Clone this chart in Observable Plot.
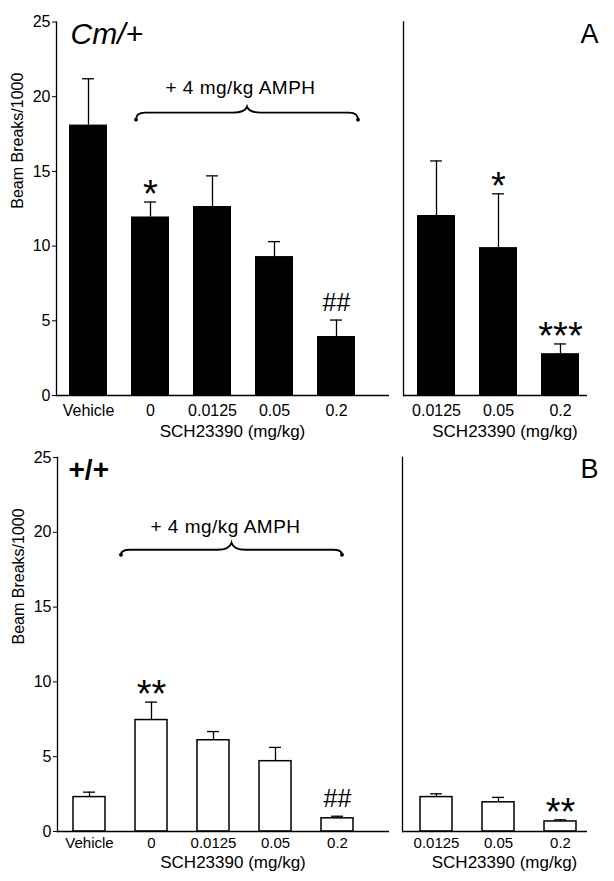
<!DOCTYPE html>
<html><head><meta charset="utf-8">
<script src="https://cdn.jsdelivr.net/npm/d3@7"></script>
<script src="https://cdn.jsdelivr.net/npm/@observablehq/plot@0.6"></script>
<style>
html,body{margin:0;padding:0;background:#fff;}
#fig{position:relative;width:614px;height:881px;overflow:hidden;background:#fff;font-family:"Liberation Sans",Arial,sans-serif;}
#fig > div{position:absolute;}
</style></head>
<body><div id="fig"></div>
<script>
// ---- data ----
const doseLeft = ["Vehicle", "0", "0.0125", "0.05", "0.2"];
const doseRight = ["0.0125", "0.05", "0.2"];
const yTicks = [0, 5, 10, 15, 20, 25];

// Cm/+ (panel A)
const cmLeftMean = [18.1, 11.95, 12.65, 9.3, 3.95];
const cmLeftSem  = [3.1, 1.0, 2.05, 1.0, 1.1];
const cmLeftSig  = ["", "*", "", "", "##"];
const cmRightMean = [12.05, 9.9, 2.8];
const cmRightSem  = [3.65, 3.6, 0.65];
const cmRightSig  = ["", "*", "***"];

// +/+ (panel B)
const wtLeftMean = [2.3, 7.45, 6.1, 4.7, 0.88];
const wtLeftSem  = [0.33, 1.2, 0.58, 0.92, 0.14];
const wtLeftSig  = ["", "**", "", "", "##"];
const wtRightMean = [2.3, 1.95, 0.67];
const wtRightSem  = [0.22, 0.33, 0.11];
const wtRightSig  = ["", "", "**"];

const xTitle = "SCH23390 (mg/kg)";
const yTitle = "Beam Breaks/1000";
const braceText = "+ 4 mg/kg AMPH";

// ---- drawing ----
const FONT = '"Liberation Sans", Arial, Helvetica, sans-serif';

function braceMark(fromCat, toCat, level, o) {
  return (index, scales, values, dimensions, context) => {
    const xs = scales.x, ys = scales.y;
    const bw = typeof xs.bandwidth === "function" ? xs.bandwidth() : 0;
    const x0 = xs(fromCat) + bw / 2 + o.dx0;
    const x1 = xs(toCat) + bw / 2 + o.dx1;
    const xm = (x0 + x1) / 2;
    const yl = ys(level);
    const h = o.hook, p = o.peak, r = 9, rm = 14;
    const d = `M${x0},${yl + h} Q${x0},${yl} ${x0 + r},${yl} L${xm - rm},${yl} Q${xm - 2},${yl} ${xm},${yl - p} Q${xm + 2},${yl} ${xm + rm},${yl} L${x1 - r},${yl} Q${x1},${yl} ${x1},${yl + h}`;
    const g = d3.create("svg:g");
    g.append("path").attr("d", d).attr("fill", "none").attr("stroke", "black").attr("stroke-width", 1.8);
    g.append("circle").attr("cx", x0).attr("cy", yl + h).attr("r", 1.9).attr("fill", "black");
    g.append("circle").attr("cx", x1).attr("cy", yl + h).attr("r", 1.9).attr("fill", "black");
    g.append("text").attr("x", xm + o.tdx).attr("y", yl + o.tdy)
      .attr("text-anchor", "middle").attr("font-size", 19).attr("letter-spacing", "0.5px")
      .attr("font-family", FONT).attr("fill", "black").text(braceText);
    return g.node();
  };
}

function panel(cfg) {
  const rows = cfg.cats.map((c, i) => ({dose: c, mean: cfg.means[i], top: cfg.means[i] + cfg.sems[i], sig: cfg.sigs[i]}));
  const marks = [
    Plot.barY(rows, {x: "dose", y: "mean", fill: cfg.filled ? "black" : "white",
      stroke: "black", strokeWidth: cfg.filled ? 0 : 1.5}),
    Plot.ruleX(rows, {x: "dose", y1: "mean", y2: "top", strokeWidth: 1.3}),
    Plot.tickY(rows, {x: "dose", y: "top", insetLeft: cfg.capInset, insetRight: cfg.capInset, strokeWidth: 1.3}),
    Plot.text(rows.filter(d => d.sig.startsWith("*")), {x: "dose", y: "top", text: "sig", fontSize: 38, lineAnchor: "bottom", dy: 5}),
    Plot.text(rows.filter(d => d.sig.startsWith("#")), {x: "dose", y: "top", text: "sig", fontSize: 25, lineAnchor: "bottom", dy: -9}),
    Plot.ruleY([0], {strokeWidth: 1.3}),
    Plot.frame({anchor: "left", strokeWidth: 1.3}),
    Plot.axisX({tickSize: 0, tickPadding: cfg.tickPad, fontSize: cfg.tickFont, label: null}),
    Plot.text([xTitle], {text: d => d, frameAnchor: "bottom", lineAnchor: "top", dy: cfg.labelDy, dx: 9.5, fontSize: 17})
  ];
  if (cfg.yAxis) {
    marks.push(Plot.axisY({ticks: yTicks, tickSize: 4, tickPadding: 2, fontSize: 16, label: null}));
    marks.push(Plot.text([yTitle], {text: d => d, frameAnchor: "left", rotate: -90, dx: -38.5, fontSize: 16}));
  }
  if (cfg.genotype) {
    marks.push(Plot.text([cfg.genotype], {text: d => d, frameAnchor: "top-left", textAnchor: "start", lineAnchor: "bottom",
      dx: cfg.genoDx, dy: 21.5, fontSize: cfg.genoSize, fontStyle: cfg.genoStyle, fontWeight: cfg.genoWeight}));
  }
  if (cfg.letter) {
    marks.push(Plot.text([cfg.letter], {text: d => d, frameAnchor: "top-right", textAnchor: "end", lineAnchor: "bottom",
      dx: 11, dy: 20.5, fontSize: 27}));
  }
  if (cfg.brace) marks.push(braceMark("0", "0.2", cfg.brace.level, cfg.brace));

  const chart = Plot.plot({
    width: cfg.width, height: cfg.height,
    marginLeft: cfg.ml, marginRight: cfg.mr, marginTop: cfg.mt, marginBottom: cfg.mb,
    style: {fontFamily: FONT, fontSize: "16px", color: "black", background: "transparent", overflow: "visible"},
    x: {type: "band", domain: cfg.cats, range: cfg.xRange, paddingInner: cfg.pad, paddingOuter: cfg.pad / 2},
    y: {domain: [0, 25], axis: cfg.yAxis ? undefined : null},
    marks
  });
  const holder = document.createElement("div");
  holder.style.left = cfg.left + "px";
  holder.style.top = cfg.top + "px";
  holder.appendChild(chart);
  document.getElementById("fig").appendChild(holder);
}

// Panel A (Cm/+)
panel({cats: doseLeft, means: cmLeftMean, sems: cmLeftSem, sigs: cmLeftSig, filled: true,
  left: 0, top: 0, width: 400, height: 440, ml: 56, mr: 11, mt: 21.5, mb: 45,
  xRange: [56, 368.5], pad: 0.39, capInset: 13, tickPad: 9, tickFont: 16, labelDy: 29, yAxis: true,
  genotype: "Cm/+", genoDx: 14, genoSize: 30, genoStyle: "italic", genoWeight: "normal",
  brace: {level: 18.9, dx0: -14, dx1: 22, hook: 7, peak: 6, tdx: -6.5, tdy: -19}});
panel({cats: doseRight, means: cmRightMean, sems: cmRightSem, sigs: cmRightSig, filled: true,
  left: 400, top: 0, width: 214, height: 440, ml: 3, mr: 27, mt: 21.5, mb: 45,
  xRange: [5, 191], pad: 0.39, capInset: 13, tickPad: 9, tickFont: 16, labelDy: 29, yAxis: false, letter: "A"});

// Panel B (+/+)
panel({cats: doseLeft, means: wtLeftMean, sems: wtLeftSem, sigs: wtLeftSig, filled: false,
  left: 0, top: 440, width: 400, height: 441, ml: 57, mr: 11, mt: 17, mb: 50,
  xRange: [57, 369.5], pad: 0.49, capInset: 10, tickPad: 6, tickFont: 15, labelDy: 24, yAxis: true,
  genotype: "+/+", genoDx: 11, genoSize: 28, genoStyle: "normal", genoWeight: "bold",
  brace: {level: 18.8, dx0: -30, dx1: 5, hook: 5, peak: 7, tdx: -6, tdy: -17}});
panel({cats: doseRight, means: wtRightMean, sems: wtRightSem, sigs: wtRightSig, filled: false,
  left: 400, top: 440, width: 214, height: 441, ml: 2, mr: 27, mt: 17, mb: 50,
  xRange: [4, 191], pad: 0.49, capInset: 10, tickPad: 6, tickFont: 15, labelDy: 24, yAxis: false, letter: "B"});
</script>
</body></html>
